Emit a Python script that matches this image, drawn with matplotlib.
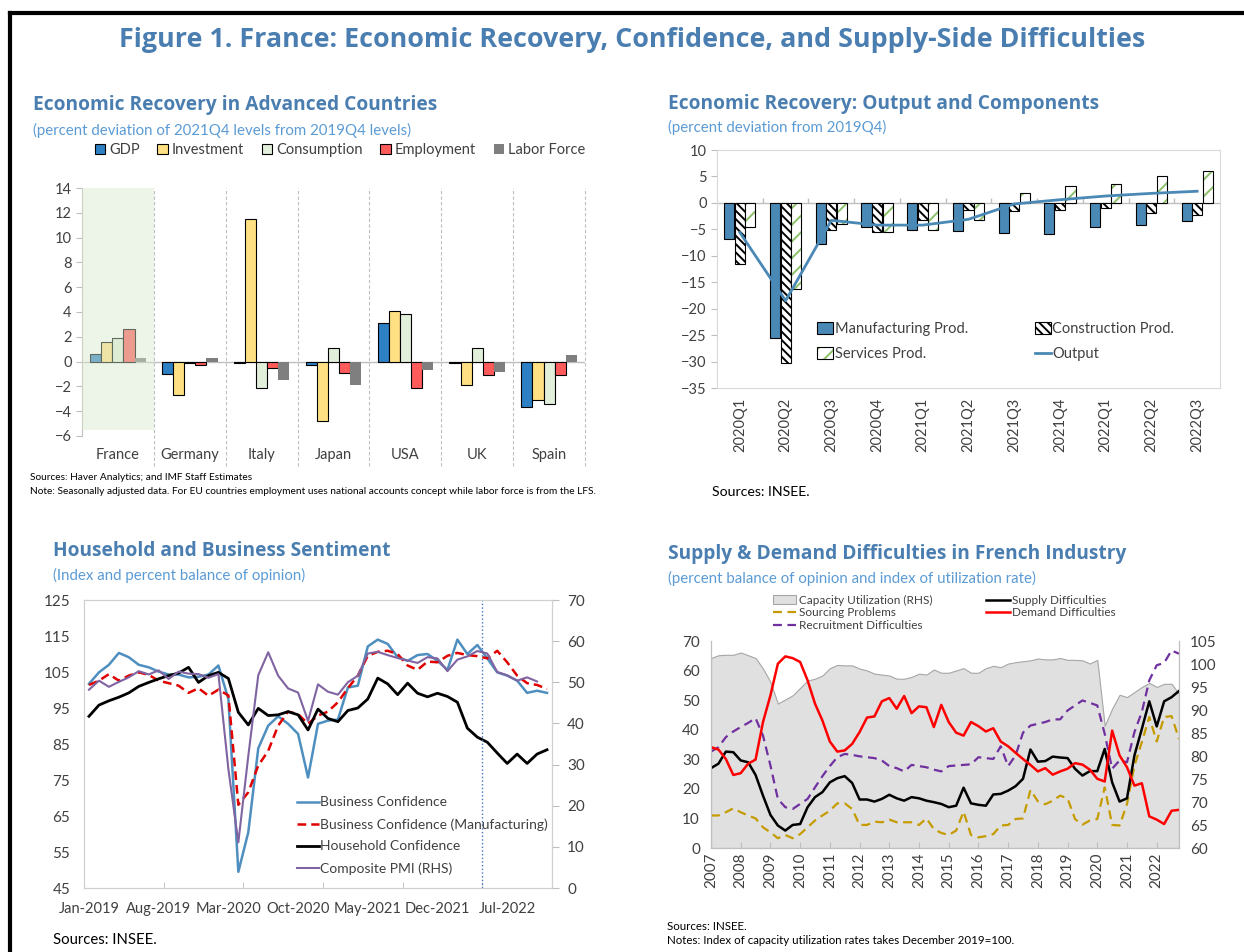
import numpy as np
import matplotlib
matplotlib.use("Agg")
import matplotlib.pyplot as plt
from matplotlib.patches import Patch
from matplotlib.lines import Line2D

plt.rcParams['font.family'] = ['Lato', 'DejaVu Sans']
plt.rcParams['hatch.linewidth'] = 1.4

W, H = 1244, 952
TITLE_C = "#4a7eb0"
SUB_C = "#5b9bd5"
TXT_C = "#404040"
SPINE_C = "#bfbfbf"
TFONT = ['Open Sans', 'DejaVu Sans']

# ---- panel 1: recovery in advanced countries
countries = ["France", "Germany", "Italy", "Japan", "USA", "UK", "Spain"]
gdp = [0.6, -1.0, -0.1, -0.3, 3.1, -0.1, -3.7]
investment = [1.6, -2.7, 11.5, -4.8, 4.1, -1.9, -3.1]
consumption = [1.9, -0.15, -2.1, 1.1, 3.8, 1.1, -3.4]
employment = [2.6, -0.3, -0.5, -0.9, -2.1, -1.1, -1.1]
labor_force = [0.3, 0.3, -1.5, -1.9, -0.7, -0.8, 0.5]

# ---- panel 2: output and components
quarters = ["2020Q1", "2020Q2", "2020Q3", "2020Q4", "2021Q1", "2021Q2",
            "2021Q3", "2021Q4", "2022Q1", "2022Q2", "2022Q3"]
manuf = [-6.9, -25.6, -7.8, -4.5, -5.1, -5.4, -5.7, -5.8, -4.6, -4.1, -3.4]
constr = [-11.5, -30.2, -5.1, -5.5, -3.2, -1.4, -1.5, -1.4, -1.0, -1.9, -2.3]
services = [-4.5, -16.3, -4.0, -5.5, -5.1, -3.2, 1.8, 3.2, 3.5, 5.1, 6.0]
output = [-5.6, -18.5, -3.3, -4.2, -4.2, -3.1, -0.2, 0.6, 1.3, 1.8, 2.2]

# ---- panel 3: sentiment, monthly Jan-2019 .. Nov-2022
month_labels = ["Jan-2019", "Aug-2019", "Mar-2020", "Oct-2020", "May-2021", "Dec-2021", "Jul-2022"]
business = [101.7, 104.9, 107.0, 110.3, 109.1, 107.0, 106.3, 105.1, 104.3, 104.3, 103.5, 103.7,
            104.3, 106.8, 97.5, 49.5, 60.5, 83.8, 90.1, 92.7, 90.6, 87.8, 75.7, 90.6,
            91.5, 91.8, 100.7, 101.2, 112.1, 114.0, 112.8, 109.1, 108.1, 109.7, 110.0, 108.1,
            105.6, 114.0, 110.0, 112.5, 108.8, 104.9, 104.0, 102.6, 99.2, 99.8, 99.2]
business_mfg = [101.4, 102.6, 104.4, 102.6, 104.0, 104.9, 104.2, 102.6, 101.9, 101.2, 99.2, 100.5,
                98.4, 100.1, 98.5, 68.1, 71.6, 79.0, 83.1, 90.1, 94.0, 93.3, 90.6, 92.9,
                94.0, 96.6, 100.5, 104.0, 109.5, 110.6, 110.9, 110.0, 106.8, 105.6, 107.9, 107.7,
                109.5, 110.3, 109.7, 109.4, 108.8, 110.9, 107.7, 104.0, 101.9, 101.4, 100.3]
household = [92.7, 95.8, 97.0, 98.0, 99.2, 101.0, 102.1, 103.1, 104.0, 104.7, 106.3, 102.1,
             104.0, 104.9, 103.2, 93.8, 90.3, 94.9, 92.9, 93.1, 94.0, 93.1, 88.9, 94.7,
             92.1, 91.2, 94.3, 95.0, 97.5, 103.3, 101.7, 98.7, 101.9, 99.1, 98.1, 99.1,
             98.2, 96.6, 89.4, 86.9, 85.5, 82.5, 79.6, 82.2, 79.6, 82.2, 83.4]
pmi = [48.2, 50.4, 48.9, 50.1, 51.2, 52.7, 51.9, 52.9, 50.8, 52.6, 52.1, 52.0,
       51.1, 52.0, 28.9, 11.1, 32.1, 51.7, 57.3, 51.6, 48.5, 47.5, 40.6, 49.5,
       47.7, 47.0, 50.0, 51.6, 57.0, 57.4, 56.6, 55.9, 55.3, 54.7, 56.1, 55.8,
       52.7, 55.5, 56.3, 57.6, 57.0, 52.5, 51.7, 50.4, 51.2, 50.2]

# ---- panel 4: supply & demand difficulties, quarterly 2007Q1 .. 2022Q4
years = list(range(2007, 2023))
capacity = [101.3, 101.9, 102.0, 102.0, 102.5, 101.9, 101.3, 99.0,
            96.1, 91.4, 92.3, 93.2, 94.8, 96.4, 96.8, 97.5,
            99.1, 99.8, 99.7, 99.7, 99.0, 98.6, 97.9, 97.7,
            97.5, 96.8, 96.8, 97.2, 97.9, 97.7, 98.8, 98.1,
            98.1, 98.6, 99.1, 98.1, 98.1, 99.1, 99.6, 99.3,
            100.1, 100.4, 100.6, 100.8, 101.2, 101.0, 101.0, 101.3,
            100.9, 100.9, 100.8, 100.1, 100.9, 86.6, 90.3, 93.3,
            92.8, 93.9, 95.0, 95.9, 95.0, 95.7, 95.7, 93.5]
supply = [27.0, 28.5, 32.6, 32.4, 29.6, 29.0, 24.7, 17.7,
          11.2, 7.6, 5.9, 7.8, 8.1, 13.8, 17.2, 18.9,
          22.2, 23.6, 24.3, 22.0, 16.4, 16.4, 15.7, 16.6,
          18.0, 16.8, 16.0, 17.2, 16.8, 16.0, 15.5, 14.9,
          13.8, 14.3, 20.4, 15.1, 14.6, 14.3, 18.1, 18.3,
          19.4, 20.9, 23.4, 33.3, 29.2, 29.4, 30.9, 30.6,
          30.4, 26.8, 24.5, 26.0, 26.0, 33.5, 22.2, 15.7,
          16.8, 31.3, 40.3, 49.6, 41.1, 49.6, 51.0, 53.1]
demand = [34.1, 33.3, 30.1, 24.7, 25.3, 28.5, 29.9, 42.6,
          51.6, 62.3, 64.8, 64.2, 62.9, 56.7, 48.8, 43.1,
          36.0, 32.6, 33.0, 35.2, 39.2, 44.1, 44.5, 49.6,
          50.7, 47.1, 51.4, 45.6, 47.9, 47.6, 40.9, 48.4,
          42.6, 39.0, 38.0, 42.6, 41.2, 39.4, 40.5, 36.0,
          34.4, 32.2, 30.1, 28.1, 25.9, 27.0, 24.8, 25.9,
          26.8, 28.7, 28.2, 26.5, 23.4, 22.5, 39.7, 31.3,
          27.3, 21.1, 21.9, 10.7, 9.6, 8.1, 12.6, 12.9]
sourcing = [11.0, 11.0, 12.1, 13.4, 12.1, 11.0, 10.0, 7.0,
            5.3, 3.3, 4.4, 3.3, 4.7, 7.0, 9.3, 11.0,
            12.6, 15.1, 15.1, 13.2, 7.8, 7.8, 8.9, 8.7,
            9.6, 8.7, 8.7, 8.7, 7.8, 10.0, 6.4, 5.1,
            4.4, 5.9, 12.3, 4.4, 3.6, 4.0, 4.7, 7.6,
            7.8, 9.8, 10.0, 19.6, 15.8, 14.8, 16.0, 17.7,
            16.8, 9.8, 7.9, 9.3, 9.8, 20.5, 7.8, 7.6,
            14.9, 27.9, 35.8, 44.3, 36.0, 44.3, 44.6, 36.9]
recruitment = [32.6, 34.1, 37.5, 39.4, 40.9, 42.3, 43.9, 38.0,
               27.9, 16.6, 13.8, 13.2, 14.9, 16.6, 20.5, 24.3,
               27.7, 30.7, 31.8, 31.5, 31.0, 30.7, 30.4, 29.6,
               27.7, 27.0, 25.9, 28.1, 27.7, 27.3, 26.5, 25.9,
               27.7, 27.9, 28.1, 28.3, 30.7, 30.4, 30.1, 34.4,
               27.7, 31.3, 39.0, 41.4, 42.0, 42.6, 43.5, 43.5,
               46.5, 48.2, 49.9, 49.1, 48.2, 38.6, 26.8, 29.6,
               29.0, 39.2, 46.0, 56.7, 61.8, 62.6, 66.8, 65.7]


def rect(l, t, r, b):
    return [l / W, 1 - b / H, (r - l) / W, (b - t) / H]


def fx(x):
    return x / W


def fy(y):
    return 1 - y / H


def panel_title(x, y, title, sub, dy):
    fig.text(fx(x), fy(y), title, fontsize=13.8, fontweight="bold", color=TITLE_C,
             va="center", family=TFONT)
    fig.text(fx(x), fy(y + dy), sub, fontsize=10.8, color=SUB_C, va="center")


fig = plt.figure(figsize=(W / 100, H / 100), dpi=100)

# frame + main title
fig.add_artist(Line2D([fx(10), 1.0], [fy(13), fy(13)], color="black", lw=3))
fig.add_artist(Line2D([fx(10), fx(10)], [fy(13), 0.0], color="black", lw=3))
fig.text(fx(632), fy(40), "Figure 1. France: Economic Recovery, Confidence, and Supply-Side Difficulties",
         ha="center", va="center", fontsize=19.4, fontweight="bold", color=TITLE_C, family=TFONT)

# ================= panel 1
ax1 = fig.add_axes(rect(82, 188, 585, 436))
x = np.arange(len(countries))
bw = 0.155
series1 = [("GDP", gdp, "#2e80c4", "black"),
           ("Investment", investment, "#ffe083", "black"),
           ("Consumption", consumption, "#e2efda", "black"),
           ("Employment", employment, "#ff5b5b", "black"),
           ("Labor Force", labor_force, "#7f7f7f", "none")]
handles1 = []
for i, (name, vals, col, ec) in enumerate(series1):
    ax1.bar(x + (i - 2) * bw, vals, bw, color=col, edgecolor=ec, linewidth=0.8, zorder=3)
    handles1.append(Patch(facecolor=col, edgecolor=ec, linewidth=0.8, label=name))
ax1.axvspan(-0.5, 0.5, ymin=0.025, ymax=1.0, color="#d9ead0", alpha=0.45, zorder=4, lw=0)
ax1.axhline(0, color="#bfbfbf", lw=1, zorder=2)
for b in np.arange(0.5, len(countries), 1.0):
    ax1.axvline(b, ymin=-0.12, ymax=1.0, color="#bfbfbf", lw=0.8, ls=(0, (3, 2)), clip_on=False)
ax1.set_xlim(-0.5, len(countries) - 0.5)
ax1.set_ylim(-6, 14)
ax1.set_yticks(np.arange(-6, 15, 2))
ax1.set_xticks(x)
ax1.set_xticklabels(countries)
ax1.tick_params(axis="x", length=0, pad=9, labelsize=10.5, labelcolor=TXT_C)
ax1.tick_params(axis="y", length=4, color=SPINE_C, labelsize=10.5, labelcolor=TXT_C)
for s in ["top", "right", "bottom"]:
    ax1.spines[s].set_visible(False)
ax1.spines["left"].set_color(SPINE_C)
fig.legend(handles=handles1, loc="center", bbox_to_anchor=(fx(340), fy(150)), ncol=5,
           frameon=False, fontsize=10.5, handlelength=0.7, handleheight=0.7,
           handletextpad=0.3, columnspacing=1.2, labelcolor=TXT_C)
panel_title(33, 105, "Economic Recovery in Advanced Countries",
            "(percent deviation of 2021Q4 levels from 2019Q4 levels)", 25)
fig.text(fx(30), fy(477), "Sources: Haver Analytics; and IMF Staff Estimates", fontsize=7.3, va="center")
fig.text(fx(30), fy(491), "Note: Seasonally adjusted data. For EU countries employment uses national "
         "accounts concept while labor force is from the LFS.", fontsize=7.3, va="center")

# ================= panel 2
ax2 = fig.add_axes(rect(717, 150, 1220, 388))
q = np.arange(len(quarters))
bw2 = 0.22
ax2.bar(q - 0.23, manuf, bw2, color="#4a89b5", edgecolor="black", lw=0.8, zorder=3)
ax2.bar(q, constr, bw2, color="white", edgecolor="black", hatch="\\\\\\\\", lw=0.8, zorder=3)
ax2.bar(q + 0.23, services, bw2, color="white", edgecolor="#8cc16a", hatch="//", lw=0, zorder=3)
ax2.bar(q + 0.23, services, bw2, fill=False, edgecolor="black", lw=0.8, zorder=3)
ax2.plot(q, output, color="#4a89b5", lw=2, zorder=4)
ax2.axhline(0, color="#bfbfbf", lw=1, zorder=2)
ax2.vlines(np.arange(0.5, len(quarters) - 1), 0, 0.9, color="#bfbfbf", lw=1, zorder=2)
ax2.set_xlim(-0.5, len(quarters) - 0.5)
ax2.set_ylim(-35, 10)
ax2.set_yticks(np.arange(-35, 11, 5))
ax2.set_xticks(q)
ax2.set_xticklabels(quarters, rotation=90)
ax2.tick_params(axis="x", length=0, pad=7, labelsize=10.5, labelcolor=TXT_C)
ax2.tick_params(axis="y", length=4, color=SPINE_C, labelsize=10.5, labelcolor=TXT_C)
for s in ax2.spines.values():
    s.set_color("#d9d9d9")
h2 = [Patch(facecolor="#4a89b5", edgecolor="black", lw=0.8),
      (Patch(facecolor="white", edgecolor="#8cc16a", hatch="//", lw=0),
       Patch(fill=False, edgecolor="black", lw=0.8)),
      Patch(facecolor="white", edgecolor="black", hatch="\\\\\\\\", lw=0.8),
      Line2D([], [], color="#4a89b5", lw=2)]
ax2.legend(h2, ["Manufacturing Prod.", "Services Prod.", "Construction Prod.", "Output"],
           ncol=2, loc="upper left", bbox_to_anchor=(fx(804), fy(309)), bbox_transform=fig.transFigure,
           frameon=False, fontsize=10.5, handlelength=1.1, handleheight=0.8, handletextpad=0.1,
           columnspacing=4.6, labelspacing=0.75, labelcolor=TXT_C)
panel_title(668, 104, "Economic Recovery: Output and Components",
            "(percent deviation from 2019Q4)", 23)
fig.text(fx(712), fy(492), "Sources: INSEE.", fontsize=10.2, va="center")

# ================= panel 3
ax3 = fig.add_axes(rect(84, 600, 552, 888))
m = np.arange(len(business))
l_bus, = ax3.plot(m, business, color="#4e8fc0", lw=1.8, label="Business Confidence")
l_mfg, = ax3.plot(m, business_mfg, color="#e00000", lw=1.8, ls=(0, (3.5, 2)),
                  label="Business Confidence (Manufacturing)")
l_hh, = ax3.plot(m, household, color="black", lw=2, label="Household Confidence")
ax3.axvline(39.5, color="#4472c4", lw=1, ls=":")
ax3.set_xlim(-0.5, len(business) - 0.5)
ax3.set_ylim(45, 125)
ax3.set_yticks(np.arange(45, 126, 10))
ax3.set_xticks(np.arange(0, len(business), 7))
ax3.set_xticklabels(month_labels)
ax3.set_xticks(np.arange(7.5, len(business), 8), minor=True)
ax3.tick_params(axis="x", which="major", length=0, pad=10, labelsize=10.5, labelcolor=TXT_C)
ax3.tick_params(axis="x", which="minor", length=4, direction="in", color=SPINE_C)
ax3.tick_params(axis="y", length=0, pad=10, labelsize=11, labelcolor=TXT_C)
ax3b = ax3.twinx()
l_pmi, = ax3b.plot(np.arange(len(pmi)), pmi, color="#8064a2", lw=1.5, label="Composite PMI (RHS)")
ax3b.set_ylim(0, 70)
ax3b.set_yticks(np.arange(0, 71, 10))
ax3b.tick_params(axis="y", length=5, color=SPINE_C, labelsize=11, labelcolor=TXT_C, pad=6)
for a in (ax3, ax3b):
    for s in a.spines.values():
        s.set_color("#d0d0d0")
ax3.legend(handles=[l_bus, l_mfg, l_hh, l_pmi], loc="upper left",
           bbox_to_anchor=(fx(284), fy(784)), bbox_transform=fig.transFigure,
           frameon=False, fontsize=10, handlelength=1.6, handletextpad=0.1,
           labelspacing=0.7, labelcolor=TXT_C)
panel_title(53, 551, "Household and Business Sentiment",
            "(Index and percent balance of opinion)", 24)
fig.text(fx(53), fy(940), "Sources: INSEE.", fontsize=10.7, va="center")

# ================= panel 4
ax4 = fig.add_axes(rect(711, 641, 1179, 848))
ax4b = ax4.twinx()
t = np.arange(len(capacity))
ax4b.fill_between(t, 60, capacity, color="#e0e0e0", edgecolor="#a6a6a6", lw=0.8, zorder=1)
ax4b.set_ylim(60, 105)
ax4b.set_yticks(np.arange(60, 106, 5))
ax4.set_zorder(ax4b.get_zorder() + 1)
ax4.patch.set_visible(False)
ax4.plot(t, sourcing, color="#c59b00", lw=1.6, ls=(0, (4, 2.5)))
ax4.plot(t, recruitment, color="#7030a0", lw=1.6, ls=(0, (4, 2.5)))
ax4.plot(t, supply, color="black", lw=1.8)
ax4.plot(t, demand, color="#ff0000", lw=1.8)
ax4.set_xlim(0, len(capacity) - 1)
ax4.set_ylim(0, 70)
ax4.set_yticks(np.arange(0, 71, 10))
ax4.set_xticks(np.arange(len(years)) * 4)
ax4.set_xticklabels([str(y) for y in years], rotation=90)
ax4.tick_params(axis="x", length=4, direction="in", color=SPINE_C, labelsize=11, labelcolor=TXT_C)
ax4.tick_params(axis="y", length=0, labelsize=11, labelcolor=TXT_C, pad=8)
ax4b.tick_params(axis="y", length=0, labelsize=11, labelcolor=TXT_C, pad=8)
for a in (ax4, ax4b):
    a.spines["top"].set_visible(False)
    for s in ("left", "right", "bottom"):
        a.spines[s].set_color(SPINE_C)
h4 = [Patch(facecolor="#e0e0e0", edgecolor="#a6a6a6", lw=0.8),
      Line2D([], [], color="#c59b00", lw=1.6, ls=(0, (4, 2.5))),
      Line2D([], [], color="#7030a0", lw=1.6, ls=(0, (4, 2.5))),
      Line2D([], [], color="black", lw=1.8),
      Line2D([], [], color="#ff0000", lw=1.8)]
fig.legend(h4, ["Capacity Utilization (RHS)", "Sourcing Problems", "Recruitment Difficulties",
                "Supply Difficulties", "Demand Difficulties"],
           ncol=2, loc="upper left", bbox_to_anchor=(fx(762), fy(584)), frameon=False,
           fontsize=8.5, handlelength=2.0, handleheight=0.7, handletextpad=0.2,
           columnspacing=4.6, labelspacing=0.15, labelcolor=TXT_C)
panel_title(668, 554, "Supply & Demand Difficulties in French Industry",
            "(percent balance of opinion and index of utilization rate)", 24)
fig.text(fx(667), fy(926), "Sources: INSEE.", fontsize=8.3, va="center")
fig.text(fx(667), fy(941), "Notes: Index of capacity utilization rates takes December 2019=100.",
         fontsize=8.3, va="center")

fig.savefig("out.png", dpi=100)
